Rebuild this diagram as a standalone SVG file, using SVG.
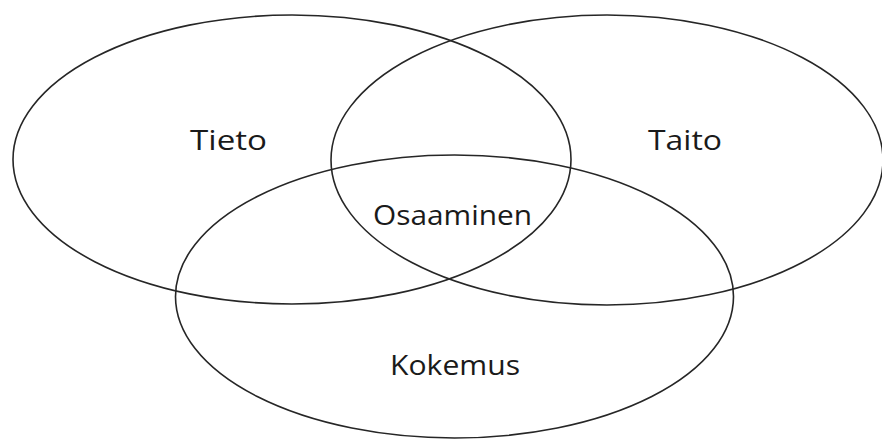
<svg xmlns="http://www.w3.org/2000/svg" width="882" height="439" viewBox="0 0 882 439">
  <style>
    .set { fill: none; stroke: #262626; stroke-width: 1.6; }
    .label { font-family: "Open Sans", "Noto Sans", "DejaVu Sans", sans-serif; font-size: 27px; fill: #1a1a1a; }
  </style>
  <rect width="882" height="439" fill="#ffffff"/>
  <g id="tieto">
    <ellipse class="set" cx="292" cy="159.5" rx="279" ry="144.5"/>
    <text class="label" x="190" y="150" textLength="77" lengthAdjust="spacingAndGlyphs">Tieto</text>
  </g>
  <g id="taito">
    <ellipse class="set" cx="607" cy="160" rx="276" ry="145"/>
    <text class="label" x="648" y="150" textLength="74" lengthAdjust="spacingAndGlyphs">Taito</text>
  </g>
  <g id="kokemus">
    <ellipse class="set" cx="454.5" cy="296.5" rx="279" ry="141.5"/>
    <text class="label" x="390" y="375" textLength="130" lengthAdjust="spacingAndGlyphs">Kokemus</text>
  </g>
  <g id="osaaminen">
    <text class="label" x="373" y="225" textLength="159" lengthAdjust="spacingAndGlyphs">Osaaminen</text>
  </g>
</svg>
